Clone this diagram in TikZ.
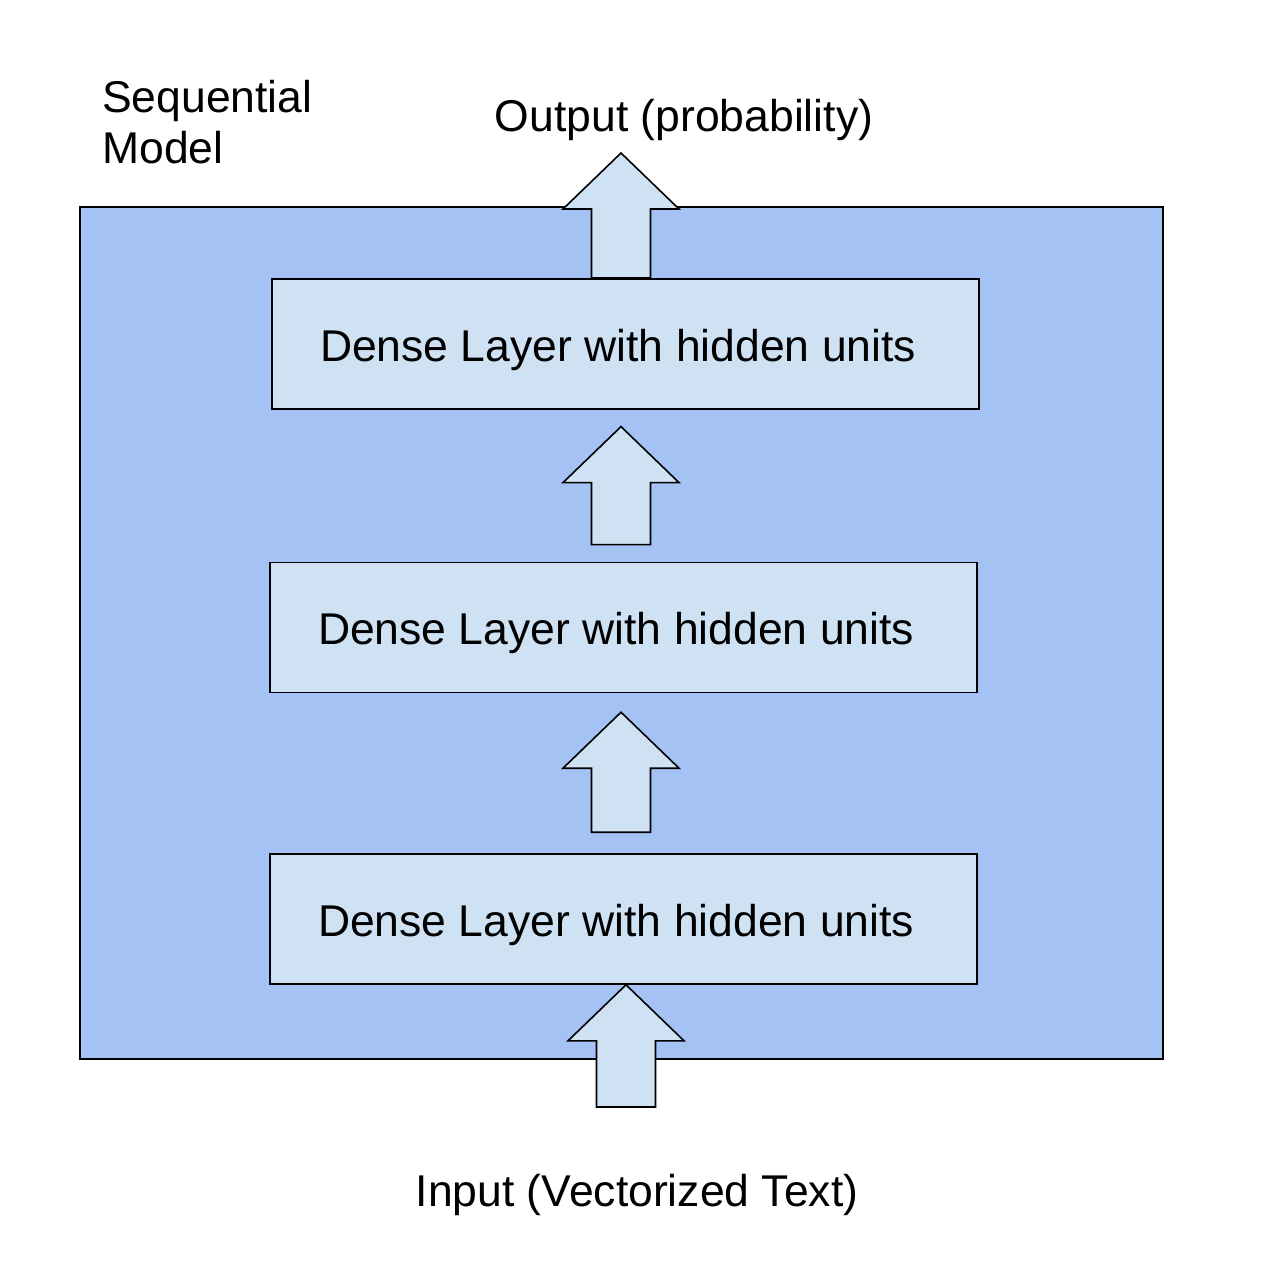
\documentclass[tikz,border=0pt]{standalone}
\usepackage{fontspec}
\setmainfont{Liberation Sans}
\usepackage{tikz}
\usetikzlibrary{positioning}
\usetikzlibrary{calc}

\definecolor{modelblue}{HTML}{A4C2F4}
\definecolor{layerblue}{HTML}{CFE2F3}

% block arrow pointing up: #1 = foot, #2 = tip
\newcommand{\blockup}[2]{%
  \draw[upshape] ($(#2 |- #1)+(-29.5,0)$) -- ($(#2)+(-29.5,56)$) -- ($(#2)+(-58,56)$) -- (#2)
    -- ($(#2)+(58,56)$) -- ($(#2)+(29.5,56)$) -- ($(#2 |- #1)+(29.5,0)$) -- cycle;}

\begin{document}
\begin{tikzpicture}[x=1pt,y=-1pt,
  every node/.style={font=\fontsize{44.5}{51}\selectfont},
  model/.style={draw,line width=1.6pt,fill=modelblue,minimum width=1083pt,minimum height=852pt,inner sep=0pt},
  layer/.style={draw,line width=1.6pt,fill=layerblue,minimum width=707pt,minimum height=130pt,
    inner xsep=48pt,inner ysep=0pt,text width=611pt,align=flush left,text height=38pt,text depth=3.5pt},
  upshape/.style={draw,line width=1.6pt,fill=layerblue}]
\useasboundingbox (0,0) rectangle (1284,1282);

\node[model] (seq) at (621.5,633) {};
\node[layer]                                  (L1) at (623.5,919) {Dense Layer with hidden units};
\node[layer] [above=160pt of L1]              (L2)                {Dense Layer with hidden units};
\node[layer] [above=152pt of L2, xshift=2pt]  (L3)                {Dense Layer with hidden units};

\node[anchor=north west,align=left,inner sep=0pt] (seqlabel) at (102,80) {Sequential\\Model};
\node[anchor=base,inner sep=0pt] (outlabel) at (684,131)  {Output (probability)};
\node[anchor=base,inner sep=0pt] (inlabel)  at (637,1206) {Input (Vectorized Text)};

\coordinate (outtip) at ($(L3.north)+(-4.5,-125)$);
\coordinate (tipB)   at ($(L3.south)+(-4.5,17)$);
\coordinate (footB)  at ($(L2.north)+(-2.5,-17)$);
\coordinate (tipA)   at ($(L2.south)+(-2.5,19)$);
\coordinate (footA)  at ($(L1.north)+(-2.5,-21)$);
\coordinate (intip)  at ($(L1.south)+(2.5,0)$);
\coordinate (infoot) at (626,1107);

\blockup{L3.north}{outtip}
\blockup{footB}{tipB}
\blockup{footA}{tipA}
\blockup{infoot}{intip}

\end{tikzpicture}
\end{document}
